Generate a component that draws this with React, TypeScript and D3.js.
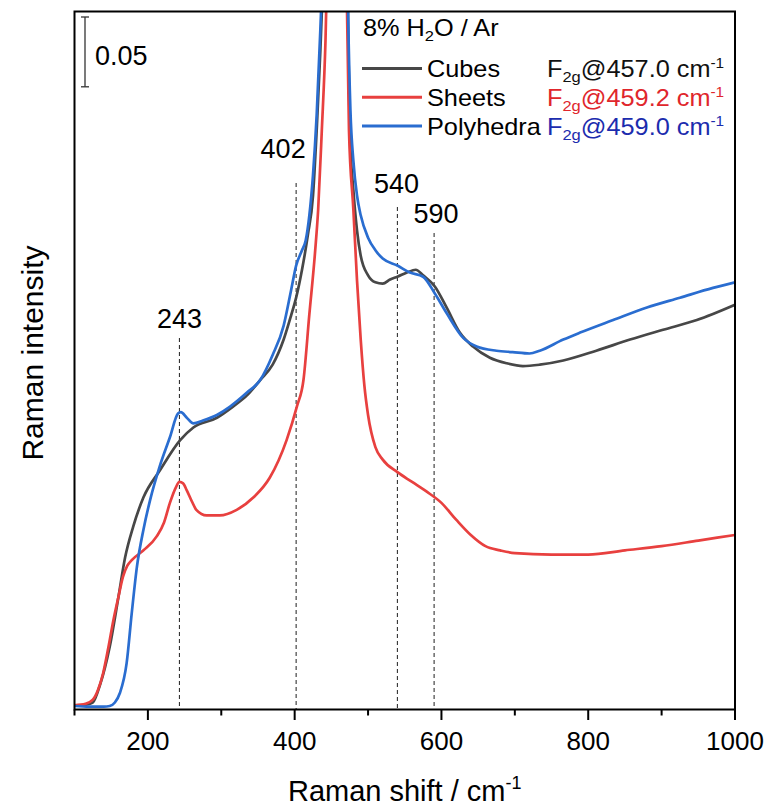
import React, { useEffect, useRef } from "react";
import * as d3 from "d3";

// Raman shift (cm-1) and intensity
const cubesShift = [100, 110, 120, 125, 135, 148, 160, 169, 180, 194, 216, 244, 262, 294, 316, 335, 353, 370, 385, 395, 402, 410, 418, 425, 430, 435, 440, 445, 450, 457, 463, 468, 472, 475, 480, 485, 490, 500, 510, 520, 530, 540, 553, 565, 575, 591, 607, 625, 643, 666, 689, 711, 734, 766, 811, 857, 902, 948, 1000];
const cubesValue = [0.003, 0.003, 0.004, 0.005, 0.018, 0.045, 0.081, 0.109, 0.131, 0.152, 0.171, 0.193, 0.202, 0.209, 0.217, 0.225, 0.236, 0.247, 0.265, 0.282, 0.295, 0.315, 0.34, 0.368, 0.415, 0.472, 0.551, 0.687, 0.866, 1.009, 0.866, 0.651, 0.522, 0.415, 0.372, 0.343, 0.325, 0.311, 0.306, 0.305, 0.308, 0.31, 0.313, 0.315, 0.311, 0.303, 0.288, 0.27, 0.26, 0.252, 0.248, 0.246, 0.247, 0.25, 0.257, 0.265, 0.272, 0.279, 0.29];

const sheetsShift = [100, 115, 125, 132, 139, 146, 153, 160, 166, 172, 178, 194, 212, 222, 230, 238, 243, 248, 253, 260, 266, 280, 298, 321, 344, 366, 389, 403, 412, 420, 428, 432, 437, 442, 447, 453, 459, 465, 470, 474, 480, 485, 490, 495, 500, 510, 520, 540, 560, 580, 600, 620, 640, 660, 680, 700, 750, 800, 850, 900, 950, 1000];
const sheetsValue = [0.003, 0.004, 0.007, 0.014, 0.026, 0.044, 0.064, 0.081, 0.095, 0.103, 0.107, 0.114, 0.124, 0.134, 0.148, 0.159, 0.163, 0.162, 0.157, 0.149, 0.143, 0.139, 0.139, 0.143, 0.152, 0.166, 0.193, 0.217, 0.236, 0.283, 0.329, 0.358, 0.415, 0.479, 0.594, 0.794, 1.081, 0.794, 0.544, 0.415, 0.358, 0.307, 0.265, 0.232, 0.211, 0.188, 0.179, 0.17, 0.163, 0.156, 0.148, 0.136, 0.125, 0.117, 0.114, 0.112, 0.111, 0.111, 0.114, 0.117, 0.121, 0.125];

const polyShift = [100, 120, 140, 148, 155, 162, 171, 178, 185, 194, 203, 216, 230, 241, 245, 253, 262, 275, 294, 312, 335, 353, 370, 385, 395, 402, 410, 415, 420, 425, 430, 435, 440, 445, 452, 459, 466, 470, 473, 476, 480, 485, 490, 500, 510, 520, 540, 557, 575, 591, 607, 630, 648, 675, 697, 720, 734, 766, 789, 834, 880, 925, 970, 1000];
const polyValue = [0.0025, 0.002, 0.002, 0.0025, 0.005, 0.012, 0.033, 0.069, 0.102, 0.129, 0.15, 0.174, 0.195, 0.212, 0.213, 0.209, 0.205, 0.207, 0.211, 0.217, 0.227, 0.236, 0.254, 0.275, 0.3, 0.318, 0.329, 0.336, 0.354, 0.383, 0.426, 0.487, 0.565, 0.687, 0.866, 0.973, 0.83, 0.615, 0.494, 0.429, 0.393, 0.368, 0.354, 0.338, 0.329, 0.323, 0.318, 0.313, 0.31, 0.298, 0.284, 0.266, 0.26, 0.257, 0.256, 0.255, 0.257, 0.265, 0.27, 0.279, 0.288, 0.295, 0.302, 0.306];

const seriesNames = ["Cubes", "Sheets", "Polyhedra"];
const seriesColors = ["#474747", "#e8403f", "#2a6dd0"];
const f2gPositions = ["457.0", "459.2", "459.0"];
const f2gColors = ["#111111", "#e0262c", "#1c2cae"];

const xTicks = [200, 400, 600, 800, 1000];
const xMinorTicks = [100, 300, 500, 700, 900];
const markedPeaks = [243, 402, 540, 590];

const W = 778;
const H = 809;
const font = "'Liberation Sans', Arial, sans-serif";

export default function App() {
  const ref = useRef<SVGSVGElement>(null);

  useEffect(() => {
    const svg = d3.select(ref.current);
    svg.selectAll("*").remove();

    const left = 74.5, right = 735, top = 11.5, bottom = 709.5;
    const x = d3.scaleLinear().domain([100, 1000]).range([left, right]);
    const y = d3.scaleLinear().domain([0, 0.5]).range([bottom, top]);

    svg.append("defs").append("clipPath").attr("id", "plot-clip")
      .append("rect").attr("x", left).attr("y", top)
      .attr("width", right - left).attr("height", bottom - top);

    // dashed peak markers
    const markTop = [338, 183, 207, 233];
    const labelShift = [0, -13, -1, 2];
    const labelBase = [328, 158, 193, 223];
    markedPeaks.forEach((p, i) => {
      svg.append("line")
        .attr("x1", x(p)).attr("x2", x(p))
        .attr("y1", markTop[i]).attr("y2", bottom)
        .attr("stroke", "#333").attr("stroke-width", 1.1)
        .attr("stroke-dasharray", "4,3");
      svg.append("text")
        .attr("x", x(p) + labelShift[i]).attr("y", labelBase[i])
        .attr("text-anchor", "middle")
        .style("font-family", font).style("font-size", "27px")
        .text(p);
    });

    const series = [
      { xs: cubesShift, ys: cubesValue },
      { xs: sheetsShift, ys: sheetsValue },
      { xs: polyShift, ys: polyValue },
    ];
    const line = d3.line<[number, number]>()
      .x((d) => x(d[0])).y((d) => y(d[1]))
      .curve(d3.curveMonotoneX);
    const plot = svg.append("g").attr("clip-path", "url(#plot-clip)");
    series.forEach((s, i) => {
      const pts = s.xs.map((v, j) => [v, s.ys[j]] as [number, number]);
      plot.append("path")
        .attr("d", line(pts))
        .attr("fill", "none")
        .attr("stroke", seriesColors[i])
        .attr("stroke-width", 2.7)
        .attr("stroke-linejoin", "round");
    });

    // frame
    svg.append("rect")
      .attr("x", left).attr("y", top)
      .attr("width", right - left).attr("height", bottom - top)
      .attr("fill", "none").attr("stroke", "#000").attr("stroke-width", 2);

    // x axis ticks
    xTicks.forEach((t) => {
      svg.append("line").attr("x1", x(t)).attr("x2", x(t))
        .attr("y1", bottom).attr("y2", bottom + 10.5)
        .attr("stroke", "#000").attr("stroke-width", 2);
      svg.append("text").attr("x", x(t)).attr("y", 750)
        .attr("text-anchor", "middle")
        .style("font-family", font).style("font-size", "26px")
        .text(t);
    });
    xMinorTicks.forEach((t) => {
      svg.append("line").attr("x1", x(t)).attr("x2", x(t))
        .attr("y1", bottom).attr("y2", bottom + 6)
        .attr("stroke", "#000").attr("stroke-width", 2);
    });

    // axis titles
    const xt = svg.append("text")
      .attr("x", (left + right) / 2).attr("y", 801)
      .attr("text-anchor", "middle")
      .style("font-family", font).style("font-size", "29px");
    xt.append("tspan").text("Raman shift / cm");
    xt.append("tspan").attr("dy", -12).style("font-size", "18px").text("-1");

    svg.append("text")
      .attr("transform", "translate(43,353) rotate(-90)")
      .attr("text-anchor", "middle")
      .style("font-family", font).style("font-size", "30px")
      .text("Raman intensity");

    // scale bar
    const barLen = y(0) - y(0.05);
    const bx = 85, by = 17;
    const sb = svg.append("g").attr("stroke", "#333").attr("stroke-width", 1.3);
    sb.append("line").attr("x1", bx).attr("x2", bx).attr("y1", by).attr("y2", by + barLen);
    sb.append("line").attr("x1", bx - 4).attr("x2", bx + 4).attr("y1", by).attr("y2", by);
    sb.append("line").attr("x1", bx - 4).attr("x2", bx + 4).attr("y1", by + barLen).attr("y2", by + barLen);
    svg.append("text").attr("x", 95).attr("y", 65)
      .style("font-family", font).style("font-size", "27px")
      .text("0.05");

    // legend
    const lg = svg.append("g").style("font-family", font);
    const title = lg.append("text")
      .attr("transform", "translate(363,36) scale(1.1,1)")
      .style("font-size", "23px");
    title.append("tspan").text("8% H");
    title.append("tspan").attr("dy", 5).style("font-size", "15px").text("2");
    title.append("tspan").attr("dy", -5).text("O / Ar");

    seriesNames.forEach((name, i) => {
      const base = 77 + i * 28.8;
      lg.append("line")
        .attr("x1", 362).attr("x2", 422)
        .attr("y1", base - 8.5).attr("y2", base - 8.5)
        .attr("stroke", seriesColors[i]).attr("stroke-width", 3);
      lg.append("text")
        .attr("transform", `translate(427,${base}) scale(1.1,1)`)
        .style("font-size", "23px")
        .text(name);
      const f = lg.append("text")
        .attr("transform", `translate(547,${base}) scale(1.1,1)`)
        .style("font-size", "23px")
        .attr("fill", f2gColors[i]);
      f.append("tspan").text("F");
      f.append("tspan").attr("dy", 5).style("font-size", "15px").text("2g");
      f.append("tspan").attr("dy", -5).text(`@${f2gPositions[i]} cm`);
      f.append("tspan").attr("dy", -9).style("font-size", "14px").text("-1");
    });
  }, []);

  return (
    <svg
      ref={ref}
      width={W}
      height={H}
      style={{ position: "absolute", left: 0, top: 0, background: "#fff" }}
    />
  );
}
